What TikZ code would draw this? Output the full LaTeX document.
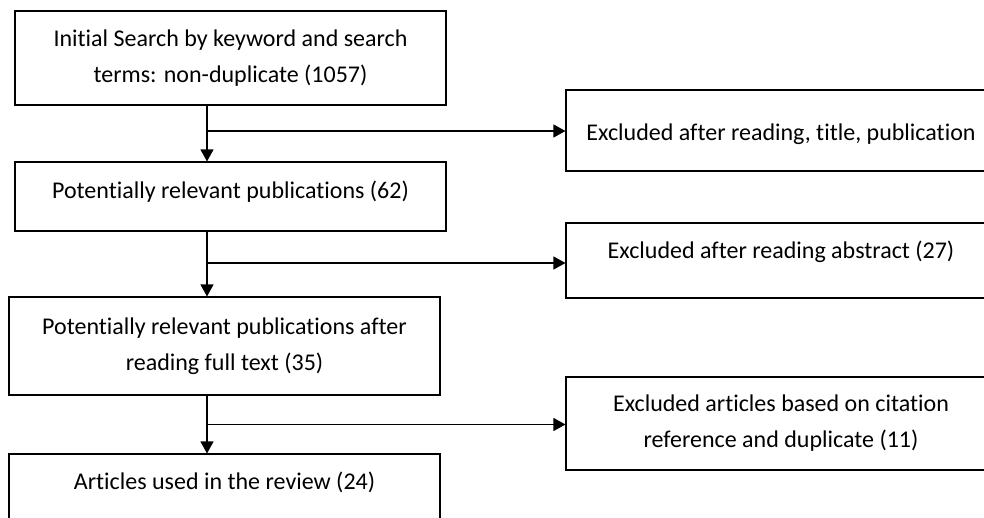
\documentclass[tikz,border=0pt]{standalone}
\usepackage{fontspec}
\setmainfont[Ligatures=NoCommon]{Carlito}
\usetikzlibrary{arrows.meta}
\begin{document}
\begin{tikzpicture}[x=1pt,y=-1pt]
\tikzstyle{every node}+=[inner sep=0pt]
\tikzstyle{box}=[draw=black, line width=1.1pt, minimum width=431pt, align=center, font=\fontsize{24}{36}\selectfont]
\tikzstyle{arr}=[draw=black, line width=1.1pt, -{Triangle[length=12pt,width=13pt]}]
\useasboundingbox (0,0) rectangle (984,517);
\clip (0,0) rectangle (984,517);
\node [box, minimum height=94pt] (search) at (230.5,58) {Initial Search by keyword and search\\terms: non-duplicate (1057)};
\node [box, minimum height=69pt, text height=15pt, text depth=12pt] (relevant) at (230.5,196.5) {Potentially relevant publications (62)};
\node [box, minimum height=98pt] (fulltext) at (224.5,346) {Potentially relevant publications after\\reading full text (35)};
\node [box, minimum height=69pt, text height=13pt, text depth=12pt] (review) at (224.5,488.5) {Articles used in the review (24)};
\node [box, minimum width=430pt, minimum height=81pt, text height=19pt, text depth=0pt] (extitle) at (781,130.5) {Excluded after reading, title, publication};
\node [box, minimum width=430pt, minimum height=75pt, text height=10pt, text depth=15pt] (exabstract) at (781,260.5) {Excluded after reading abstract (27)};
\node [box, minimum width=430pt, minimum height=93pt] (excitation) at (781,423.5) {Excluded articles based on citation\\reference and duplicate (11)};
\coordinate (spine) at (207,0);
\coordinate (j1) at (207,131);
\coordinate (j2) at (207,263);
\coordinate (j3) at (207,424.5);
\draw [arr] (search.south -| spine) -- (relevant.north -| spine);
\draw [arr] (relevant.south -| spine) -- (fulltext.north -| spine);
\draw [arr] (fulltext.south -| spine) -- (review.north -| spine);
\draw [arr] (j1) -- (j1 -| extitle.west);
\draw [arr] (j2) -- (j2 -| exabstract.west);
\draw [arr] (j3) -- (j3 -| excitation.west);
\end{tikzpicture}
\end{document}
